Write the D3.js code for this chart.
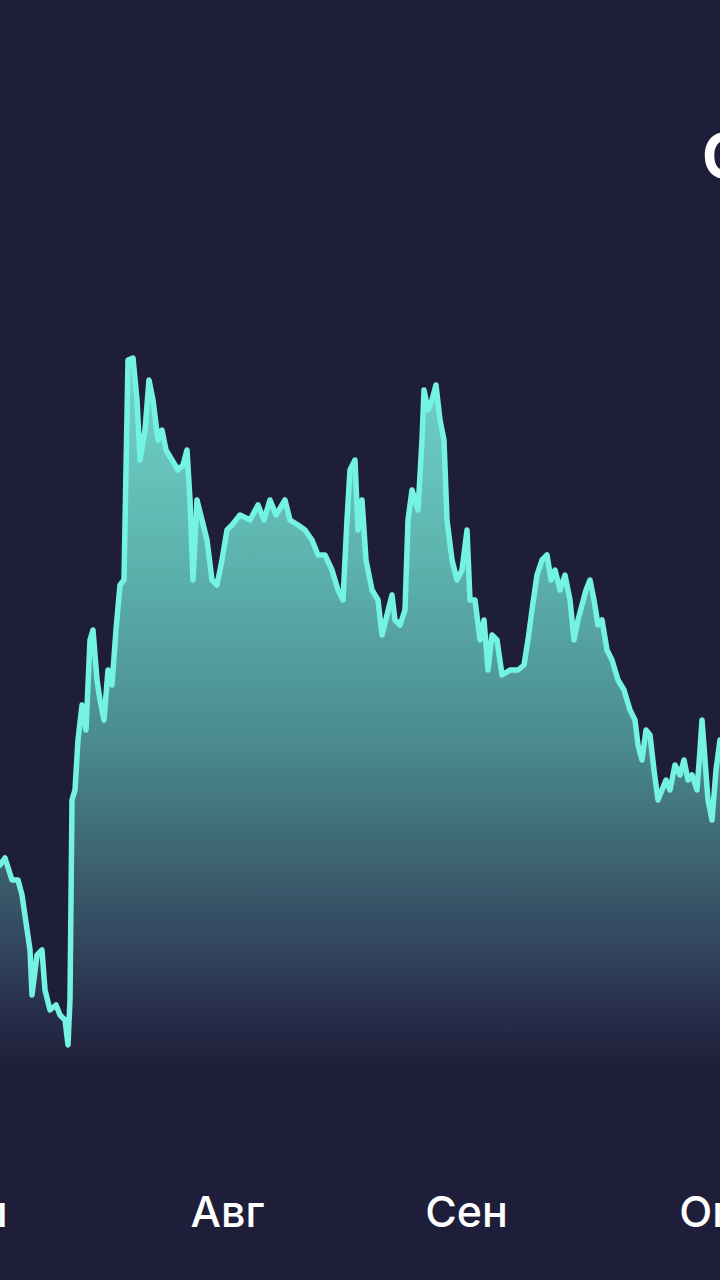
<!DOCTYPE html>
<html>
<head>
<meta charset="utf-8">
<script src="https://cdn.jsdelivr.net/npm/d3@7"></script>
<style>
  html, body { margin: 0; padding: 0; background: #1f1e3a; }
  svg { display: block; }
</style>
</head>
<body>
<svg id="chart" width="720" height="1280"></svg>
<script>
// ---- data ----
const days = [0,0.625,1.5,2.25,2.75,3.75,4,4.625,5.25,5.625,6.25,7,7.5,8.125,8.5,8.75,9,9.375,9.75,10.25,10.75,11.25,11.625,12.125,12.5,13,13.5,14,14.5,15,15.5,16,16.625,17.125,17.5,18.125,18.625,19.125,19.75,20.25,20.75,21.5,22.25,22.875,23.375,23.75,24.125,24.625,25.25,25.875,26.5,27.125,27.75,28.375,29,30,31.25,32.25,33,33.75,34.5,35.625,36.25,37.25,38.125,39,39.75,40.625,41.5,42.25,42.875,43.375,43.75,44.375,44.75,45.25,45.75,46.5,47.25,47.75,48.375,49,49.375,50,50.625,51,51.5,52.25,52.75,53,53.5,54,54.5,55,55.5,55.875,56.5,57.125,57.75,58.375,58.75,59.375,60,60.5,61,61.5,62.125,62.75,63.75,64.75,65.5,66,66.5,67.125,67.75,68.375,68.875,69.375,70,70.625,71.25,71.75,72.25,72.75,73.25,73.75,74.25,74.75,75.25,75.875,76.5,77.25,78,78.75,79.375,79.75,80.25,80.75,81.25,81.75,82.25,82.75,83.25,83.75,84.375,85,85.5,86,86.5,87.125,87.5,87.75,88.125,88.5,89,89.5,90];
const values = [2.35,2.42,2.20,2.20,2.05,1.50,1.05,1.45,1.50,1.10,0.90,0.95,0.85,0.80,0.55,1.00,3.00,3.10,3.60,3.95,3.70,4.60,4.70,4.20,4.00,3.80,4.30,4.15,4.70,5.15,5.20,7.40,7.42,7.00,6.40,6.70,7.20,7.00,6.60,6.70,6.50,6.40,6.30,6.35,6.50,6.00,5.20,6.00,5.80,5.60,5.20,5.15,5.40,5.70,5.75,5.85,5.80,5.95,5.80,6.00,5.85,6.00,5.80,5.75,5.70,5.60,5.45,5.45,5.30,5.10,5.00,5.80,6.30,6.40,5.70,6.00,5.40,5.10,5.00,4.65,4.85,5.05,4.80,4.75,4.90,5.80,6.10,5.90,6.60,7.10,6.90,7.00,7.15,6.80,6.60,5.80,5.40,5.20,5.30,5.70,5.00,5.00,4.60,4.80,4.30,4.65,4.60,4.25,4.30,4.30,4.35,4.60,4.90,5.25,5.40,5.45,5.20,5.30,5.10,5.25,5.00,4.60,4.80,4.95,5.10,5.20,5.00,4.75,4.80,4.50,4.40,4.20,4.10,3.90,3.80,3.55,3.40,3.70,3.65,3.30,3.00,3.10,3.20,3.10,3.35,3.25,3.40,3.20,3.25,3.10,3.50,3.80,3.40,3.00,2.80,3.30,3.60];
const monthLabels = ["Июл","Авг","Сен","Окт"];
const monthDays = [-5.0,28.375,58.25,89.7];
const titleText = "Cardano";

// ---- chart ----
const W = 720, H = 1280;
const svg = d3.select("#chart");
const bg = "#1f1e3a";

const x = d3.scaleLinear().domain([0, 90]).range([0, 720]);
const y = d3.scaleLinear().domain([0, 7.5]).range([1100, 350]);

const data = days.map((d, i) => ({ d, v: values[i] }));

const defs = svg.append("defs");
const grad = defs.append("linearGradient")
  .attr("id", "fillGrad")
  .attr("gradientUnits", "userSpaceOnUse")
  .attr("x1", 0).attr("x2", 0)
  .attr("y1", y(7.5)).attr("y2", y(0.35));
[
  [0, "#72d6cb", 1],
  [0.3, "#5cb2ac", 1],
  [0.55, "#4a8a90", 1],
  [0.75, "#3a5a6c", 1],
  [0.9, "#2b3550", 1],
  [1, bg, 1]
].forEach(([o, c, a]) => grad.append("stop").attr("offset", o).attr("stop-color", c).attr("stop-opacity", a));

svg.append("rect").attr("width", W).attr("height", H).attr("fill", bg);

const area = d3.area()
  .x(p => x(p.d))
  .y0(y(0.35))
  .y1(p => y(p.v));

const line = d3.line()
  .x(p => x(p.d))
  .y(p => y(p.v));

svg.append("path")
  .datum(data)
  .attr("d", area)
  .attr("fill", "url(#fillGrad)");

svg.append("path")
  .datum(data)
  .attr("d", line)
  .attr("fill", "none")
  .attr("stroke", "#74f3e4")
  .attr("stroke-width", 5.5)
  .attr("stroke-linejoin", "round")
  .attr("stroke-linecap", "round");

// x axis labels
const axis = d3.axisBottom(x)
  .tickValues(monthDays)
  .tickFormat((d, i) => monthLabels[i])
  .tickSize(0)
  .tickPadding(0);

const gAxis = svg.append("g")
  .attr("transform", "translate(0,1196)")
  .call(axis);
gAxis.select(".domain").remove();
gAxis.selectAll("text")
  .attr("fill", "#ffffff")
  .attr("font-family", "Inter, 'Open Sans', sans-serif")
  .attr("font-weight", 500)
  .attr("font-size", 43)
  .attr("dy", "0.72em");

// title (cropped at the right edge)
svg.append("text")
  .attr("x", 702)
  .attr("y", 178)
  .attr("fill", "#ffffff")
  .attr("font-family", "Inter, 'Open Sans', sans-serif")
  .attr("font-weight", 700)
  .attr("font-size", 62)
  .text(titleText);
</script>
</body>
</html>
